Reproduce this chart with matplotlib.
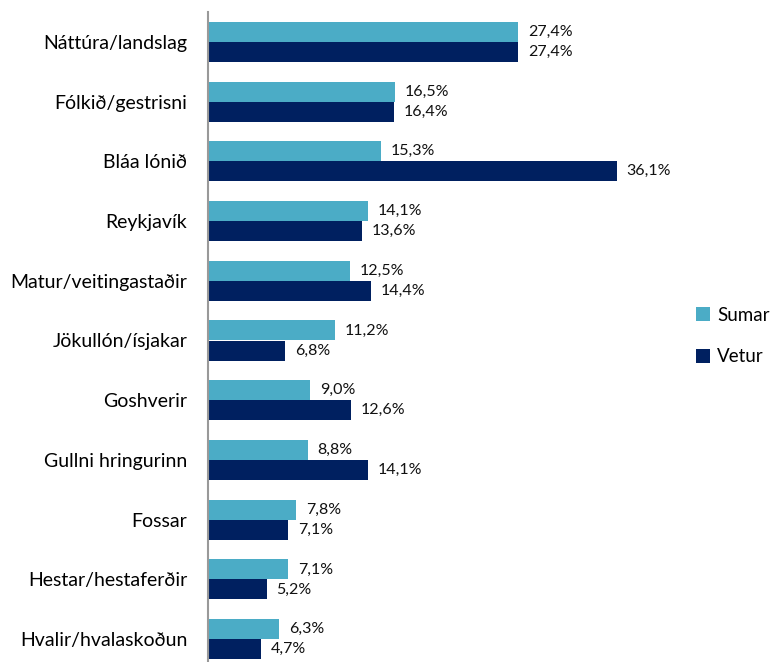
import matplotlib.pyplot as plt
import numpy as np

# ---------------- DATA ----------------
categories = [
    "Náttúra/landslag",
    "Fólkið/gestrisni",
    "Bláa lónið",
    "Reykjavík",
    "Matur/veitingastaðir",
    "Jökullón/ísjakar",
    "Goshverir",
    "Gullni hringurinn",
    "Fossar",
    "Hestar/hestaferðir",
    "Hvalir/hvalaskoðun",
]
sumar = [27.4, 16.5, 15.3, 14.1, 12.5, 11.2, 9.0, 8.8, 7.8, 7.1, 6.3]
vetur = [27.4, 16.4, 36.1, 13.6, 14.4, 6.8, 12.6, 14.1, 7.1, 5.2, 4.7]

SUMAR_COLOR = "#4BACC6"
VETUR_COLOR = "#002060"

plt.rcParams["font.family"] = ["Lato", "DejaVu Sans"]


def pct(v: float) -> str:
    """Icelandic-style percent label."""
    return f"{v:.1f}%".replace(".", ",")


W, H = 773, 662
fig = plt.figure(figsize=(W / 100, H / 100), dpi=100)
# axes spans 11 groups of ~59.7 px starting at y=12
ax = fig.add_axes([208 / W, 1 - (12 + 657) / H, 453 / W, 657 / H])

y = np.arange(len(categories))
h = 0.335
b1 = ax.barh(y - h / 2, sumar, height=h, color=SUMAR_COLOR, label="Sumar")
b2 = ax.barh(y + h / 2, vetur, height=h, color=VETUR_COLOR, label="Vetur")

for bars, vals in ((b1, sumar), (b2, vetur)):
    for bar, v in zip(bars, vals):
        ax.annotate(
            pct(v),
            (bar.get_width(), bar.get_y() + bar.get_height() / 2),
            xytext=(7, 0),
            textcoords="offset points",
            va="center",
            ha="left",
            fontsize=11.5,
            color="#111111",
        )

ax.set_xlim(0, 40)
ax.set_ylim(len(categories) - 0.5, -0.5)
ax.set_yticks(y)
ax.set_yticklabels(categories, fontsize=14, color="#000000")
ax.tick_params(axis="y", length=0, pad=15)
ax.set_xticks([])

for side in ("top", "right", "bottom"):
    ax.spines[side].set_visible(False)
ax.spines["left"].set_color("#999999")
ax.spines["left"].set_linewidth(1.5)

fig.legend(
    handles=[b1, b2],
    loc="center left",
    bbox_to_anchor=(692 / W, 1 - 336 / H),
    frameon=False,
    fontsize=13.5,
    handlelength=0.75,
    handleheight=0.75,
    handletextpad=0.4,
    labelspacing=1.3,
    borderpad=0.2,
    borderaxespad=0,
)

fig.savefig("out.png", dpi=100)
